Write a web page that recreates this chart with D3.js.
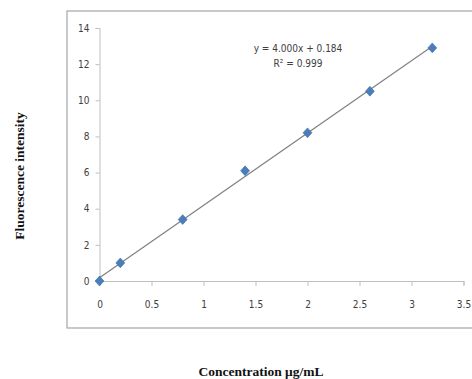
<!DOCTYPE html>
<html><head><meta charset="utf-8">
<script src="https://cdn.jsdelivr.net/npm/d3@7"></script>
<style>body{margin:0;background:#fff}svg{display:block}</style>
</head><body>
<script>
const concentration = [0, 0.2, 0.8, 1.4, 2.0, 2.6, 3.2];
const intensity = [0, 1.0, 3.4, 6.1, 8.2, 10.5, 12.9];
const xTicks = [0, 0.5, 1, 1.5, 2, 2.5, 3, 3.5];
const yTicks = [0, 2, 4, 6, 8, 10, 12, 14];
const slope = 4.000, intercept = 0.184;
const eqText = "y = 4.000x + 0.184";
const r2Text = "R² = 0.999";
const xTitle = "Concentration μg/mL";
const yTitle = "Fluorescence intensity";

const W = 472, H = 379;
const svg = d3.select("body").append("svg").attr("width", W).attr("height", H);
const x = d3.scaleLinear().domain([0, 3.5]).range([99.5, 463.5]);
const y = d3.scaleLinear().domain([0, 14]).range([281, 28]);
const tickFont = "'DejaVu Sans Condensed','Liberation Sans Narrow','Liberation Sans',sans-serif";

// outer chart box
svg.append("rect").attr("x", 67).attr("y", 11).attr("width", 420).attr("height", 317)
  .attr("fill", "none").attr("stroke", "#a6a6a6").attr("stroke-width", 1.2);

const xa = svg.append("g").attr("transform", `translate(0,${y(0)})`)
  .call(d3.axisBottom(x).tickValues(xTicks).tickSize(4).tickFormat(d3.format("")));
const ya = svg.append("g").attr("transform", `translate(${x(0)},0)`)
  .call(d3.axisLeft(y).tickValues(yTicks).tickSize(4).tickFormat(d3.format("")));
[xa, ya].forEach(g => {
  g.select(".domain").attr("stroke", "#bfbfbf");
  g.selectAll(".tick line").attr("stroke", "#bfbfbf");
  g.selectAll("text").attr("fill", "#404040").attr("font-family", tickFont).attr("font-size", 10);
});
xa.selectAll(".tick line").attr("y2", 5);
xa.selectAll("text").attr("dy", "2em");
ya.selectAll("text").attr("x", -10);

// trendline
svg.append("line")
  .attr("x1", x(0)).attr("y1", y(intercept))
  .attr("x2", x(3.2)).attr("y2", y(slope * 3.2 + intercept))
  .attr("stroke", "#7f7f7f").attr("stroke-width", 1.2);

// points (diamonds)
const data = concentration.map((c, i) => ({c, v: intensity[i]}));
svg.selectAll("path.pt").data(data).enter().append("path")
  .attr("class", "pt")
  .attr("d", d3.symbol().type(d3.symbolSquare).size(40))
  .attr("transform", d => `translate(${x(d.c)},${y(d.v)}) scale(1,1.1) rotate(45)`)
  .attr("fill", "#4a7ebb").attr("stroke", "#3a6aa8").attr("stroke-width", 0.5);

// equation text
svg.append("text").attr("x", 298).attr("y", 52).attr("text-anchor", "middle")
  .attr("font-family", tickFont).attr("font-size", 10).attr("fill", "#404040").text(eqText);
svg.append("text").attr("x", 298).attr("y", 67).attr("text-anchor", "middle")
  .attr("font-family", tickFont).attr("font-size", 10).attr("fill", "#404040").text(r2Text);

// axis titles
svg.append("text").attr("x", 261).attr("y", 376).attr("text-anchor", "middle")
  .attr("font-family", "'Liberation Serif','Times New Roman',serif").attr("font-weight", "bold")
  .attr("font-size", 13.5).attr("fill", "#111").text(xTitle);
svg.append("text").attr("transform", "translate(24,176) rotate(-90)").attr("text-anchor", "middle")
  .attr("font-family", "'Liberation Serif','Times New Roman',serif").attr("font-weight", "bold")
  .attr("font-size", 13.5).attr("fill", "#111").text(yTitle);
</script>
</body></html>
